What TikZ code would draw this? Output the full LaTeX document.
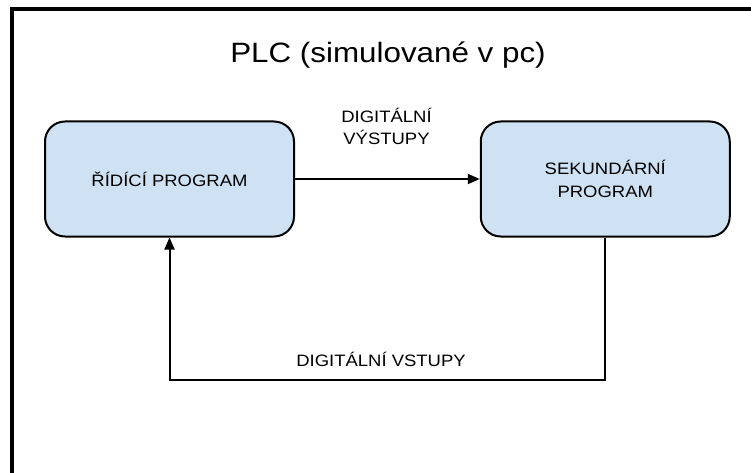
\documentclass[tikz,border=0pt]{standalone}
\usepackage{fontspec}
\setmainfont{Liberation Sans}[FakeStretch=1.12]
\usetikzlibrary{arrows.meta}
\definecolor{blokmodra}{HTML}{CFE2F3}
\begin{document}
\begin{tikzpicture}[x=1pt,y=-1pt,
	blok/.style={draw,line width=2pt,rounded corners=20pt,fill=blokmodra,
		minimum width=249pt,minimum height=115pt,align=center,
		font=\fontsize{16.5}{22.5}\selectfont},
	popis/.style={align=center,font=\fontsize{16.5}{22}\selectfont},
	sipka/.style={line width=2pt,-{Triangle[length=12pt,width=10pt]}}]
	\useasboundingbox (0,0) rectangle (751,473);
	\clip (0,0) rectangle (751,473);
	% ramecek, vpravo a dole je oriznuty
	\draw[line width=4pt] (12,9.5) rectangle (800,520);
	\node[font=\fontsize{28}{34}\selectfont,anchor=base] (t) at (388,63) {PLC (simulované v pc)};
	\node[blok] (b1) at (169.5,179) {ŘÍDÍCÍ PROGRAM};
	\node[blok] (b2) at (605.25,179) {SEKUNDÁRNÍ\\PROGRAM};
	\draw[sipka] (b1.east) -- (b2.west);
	\node[popis,anchor=base] (l1) at (386.5,145) {DIGITÁLNÍ\\VÝSTUPY};
	\draw[sipka] (b2.south) -- ++(0,142) -| (b1.south);
	\node[popis,anchor=base] (l2) at (381,366.5) {DIGITÁLNÍ VSTUPY};
\end{tikzpicture}
\end{document}
